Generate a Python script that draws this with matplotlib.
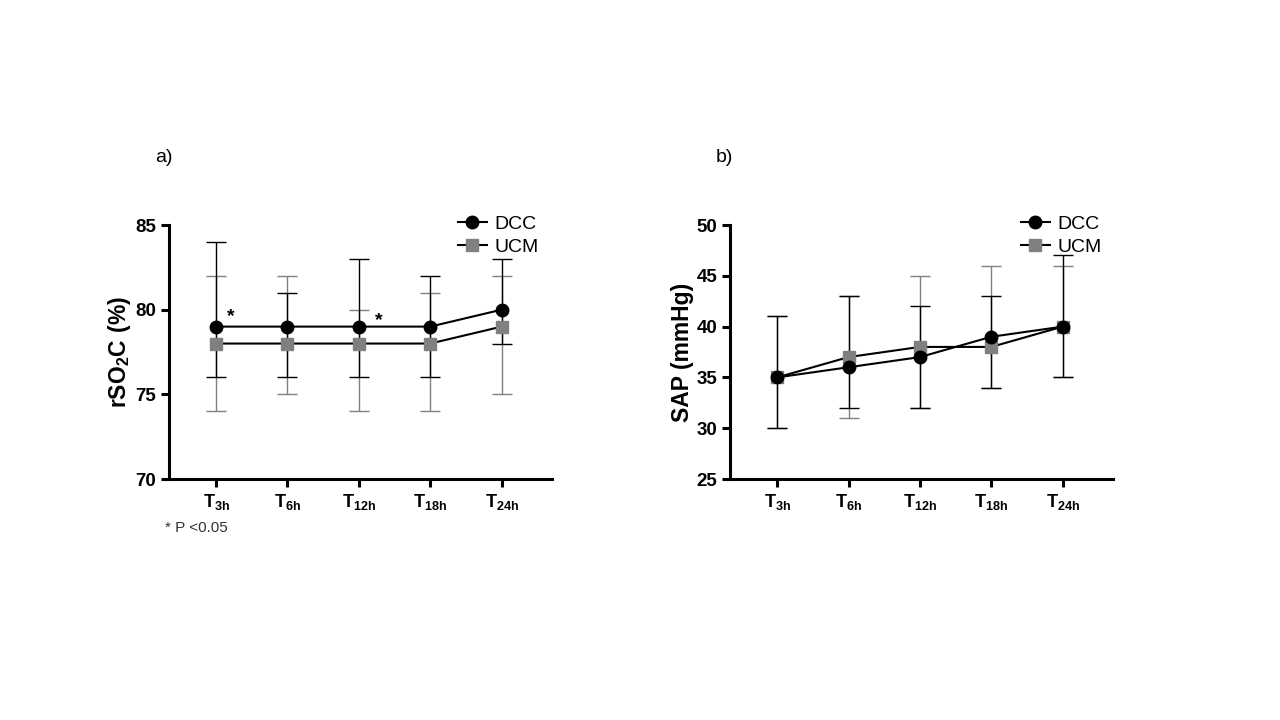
import numpy as np
import matplotlib
matplotlib.use("Agg")
import matplotlib.pyplot as plt
from matplotlib.lines import Line2D

plt.rcParams['font.family'] = ['Liberation Sans', 'DejaVu Sans']
plt.rcParams['mathtext.fontset'] = 'custom'
plt.rcParams['mathtext.rm'] = 'Liberation Sans'
plt.rcParams['mathtext.bf'] = 'Liberation Sans:bold'

# --- data ---
times = ["3h", "6h", "12h", "18h", "24h"]

rso_dcc = [79, 79, 79, 79, 80]
rso_dcc_hi = [84, 81, 83, 82, 83]
rso_dcc_lo = [76, 76, 76, 76, 78]
rso_ucm = [78, 78, 78, 78, 79]
rso_ucm_hi = [82, 82, 80, 81, 82]
rso_ucm_lo = [74, 75, 74, 74, 75]

sap_dcc = [35, 36, 37, 39, 40]
sap_dcc_hi = [41, 43, 42, 43, 47]
sap_dcc_lo = [30, 32, 32, 34, 35]
sap_ucm = [35, 37, 38, 38, 40]
sap_ucm_hi = [41, 43, 45, 46, 46]
sap_ucm_lo = [30, 31, 32, 34, 35]

GREY = "#808080"
x = np.arange(len(times))

fig = plt.figure(figsize=(12.8, 7.2), dpi=100)
ax_a = fig.add_axes([0.132, 0.3347, 0.299, 0.3528])
ax_b = fig.add_axes([0.5703, 0.3347, 0.299, 0.3528])


def panel(ax, dcc, dlo, dhi, ucm, ulo, uhi, ylim, yticks, ylabel, leg_x):
    ucm = np.array(ucm); dcc = np.array(dcc)
    ax.errorbar(x, ucm, yerr=[ucm - np.array(ulo), np.array(uhi) - ucm],
                fmt='none', ecolor=GREY, elinewidth=1.0, capsize=7, capthick=1.0, zorder=2)
    ax.errorbar(x, dcc, yerr=[dcc - np.array(dlo), np.array(dhi) - dcc],
                fmt='none', ecolor='black', elinewidth=1.0, capsize=7, capthick=1.0, zorder=3)
    ax.plot(x, ucm, color='black', lw=1.5, zorder=4)
    ax.plot(x, ucm, ls='none', marker='s', ms=9, color=GREY, zorder=5)
    ax.plot(x, dcc, color='black', lw=1.5, marker='o', ms=9, zorder=6)
    ax.set_xlim(-0.66, 4.7)
    ax.set_ylim(*ylim)
    ax.set_yticks(yticks)
    ax.set_xticks(x)
    ax.set_xticklabels([r"$\mathbf{T_{%s}}$" % t for t in times], fontsize=13)
    for lab in ax.get_yticklabels():
        lab.set_fontweight('bold')
        lab.set_fontsize(13.5)
    ax.set_ylabel(ylabel, fontsize=16.5, labelpad=2)
    for s in ['top', 'right']:
        ax.spines[s].set_visible(False)
    for s in ['left', 'bottom']:
        ax.spines[s].set_linewidth(2.2)
    ax.tick_params(axis='both', width=2.2, length=6, pad=3)
    handles = [Line2D([], [], color='black', lw=1.5, marker='o', ms=9),
               Line2D([], [], color='black', lw=1.5, marker='s', ms=9,
                      markerfacecolor=GREY, markeredgecolor=GREY)]
    ax.legend(handles, ["DCC", "UCM"], loc='upper left', bbox_to_anchor=(leg_x, 1.106),
              frameon=False, fontsize=14, handlelength=1.5, handletextpad=0.4,
              labelspacing=0.25)


panel(ax_a, rso_dcc, rso_dcc_lo, rso_dcc_hi, rso_ucm, rso_ucm_lo, rso_ucm_hi,
      (70, 85), [70, 75, 80, 85], r"$\mathbf{rSO_2C\ (\%)}$", 0.709)
panel(ax_b, sap_dcc, sap_dcc_lo, sap_dcc_hi, sap_ucm, sap_ucm_lo, sap_ucm_hi,
      (25, 50), [25, 30, 35, 40, 45, 50], "SAP (mmHg)", 0.714)
ax_b.yaxis.label.set_fontweight('bold')

# significance markers
ax_a.text(0.2, 79.6, "*", fontsize=14, fontweight='bold', ha='center', va='center')
ax_a.text(2.28, 79.35, "*", fontsize=14, fontweight='bold', ha='center', va='center')

fig.text(155 / 1280, 1 - 158 / 720, "a)", fontsize=14, ha='left', va='center')
fig.text(716 / 1280, 1 - 158 / 720, "b)", fontsize=14, ha='left', va='center')
fig.text(165 / 1280, 1 - 528 / 720, "* P <0.05", fontsize=11, color='#333333',
         ha='left', va='center')

fig.savefig("out.png", dpi=100)
